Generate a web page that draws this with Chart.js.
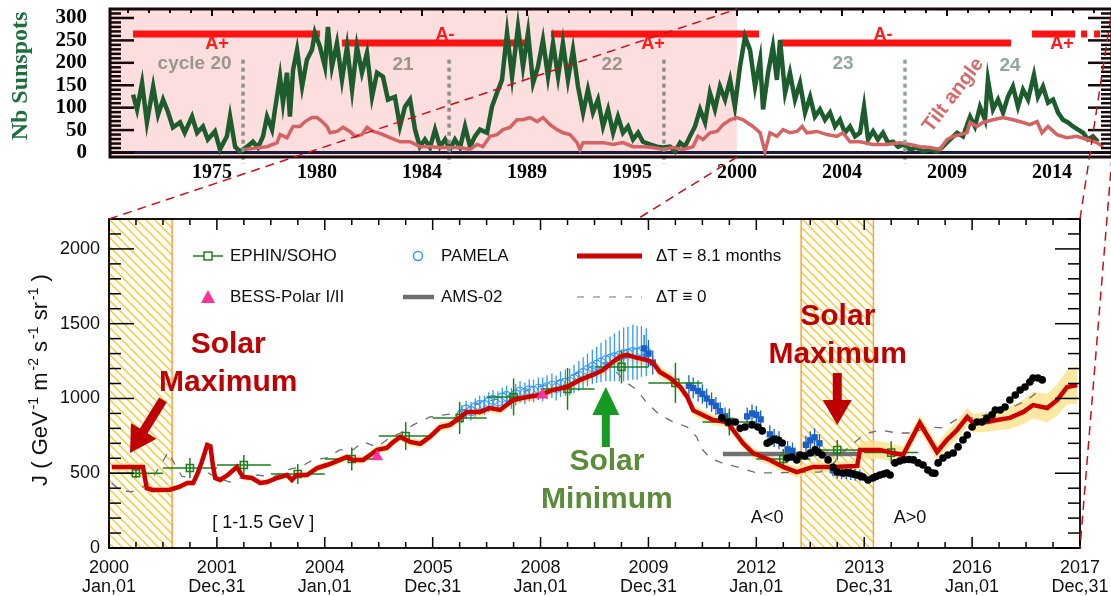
<!DOCTYPE html>
<html>
<head>
<meta charset="utf-8">
<script src="https://cdn.jsdelivr.net/npm/chart.js@4.4.1/dist/chart.umd.min.js"></script>
<style>
html, body { margin: 0; padding: 0; background: #fff; overflow: hidden; width: 1111px; height: 596px; }
#wrap { position: relative; width: 1111px; height: 596px; overflow: hidden; }
canvas { position: absolute; left: 0; top: 0; }
</style>
</head>
<body>
<div id="wrap">
  <canvas id="sunspotCanvas" width="1120" height="596"></canvas>
  <canvas id="fluxCanvas" width="1111" height="596"></canvas>
</div>
<script>
// ---------- Upper panel: sunspot number and heliospheric tilt angle ----------
const topTickYears  = [1975, 1980, 1985, 1990, 1995, 2000, 2005, 2010, 2015];
const topTickLabels = ['1975', '1980', '1984', '1989', '1995', '2000', '2004', '2009', '2014'];
const sunspotTicks  = [0, 50, 100, 150, 200, 250, 300];

// [decimal year, sunspot number]
const sunspots = [
  [1971.24,129],[1971.43,96],[1971.67,155],[1971.9,67],[1972.2,147],[1972.43,84],[1972.67,118],[1972.9,91],
  [1973.14,56],[1973.48,67],[1973.7,44],[1974.05,80],[1974.29,44],[1974.57,58],[1974.8,29],[1975.14,47],
  [1975.38,7],[1975.71,36],[1975.86,80],[1976.1,13],[1976.33,2],[1976.67,13],[1976.95,24],[1977.19,11],
  [1977.43,36],[1977.62,80],[1977.86,51],[1978.0,96],[1978.24,169],[1978.38,111],[1978.57,178],[1978.71,80],
  [1978.86,184],[1979.05,229],[1979.29,147],[1979.52,207],[1979.76,229],[1979.9,267],[1980.14,236],[1980.38,191],
  [1980.52,280],[1980.71,191],[1980.95,244],[1981.19,162],[1981.43,236],[1981.67,140],[1981.9,236],[1982.14,178],
  [1982.38,222],[1982.62,124],[1982.86,178],[1983.14,169],[1983.38,118],[1983.71,124],[1983.95,58],[1984.19,102],
  [1984.43,118],[1984.67,51],[1984.9,13],[1985.14,29],[1985.38,11],[1985.62,51],[1985.86,13],[1986.1,29],
  [1986.33,7],[1986.57,29],[1986.81,11],[1987.05,58],[1987.29,13],[1987.52,36],[1987.76,51],[1988.1,44],
  [1988.33,102],[1988.57,133],[1988.81,162],[1989.05,267],[1989.29,169],[1989.57,280],[1989.81,191],[1990.05,267],
  [1990.29,155],[1990.52,191],[1990.76,251],[1991.0,169],[1991.24,244],[1991.48,169],[1991.71,244],[1991.95,162],
  [1992.19,229],[1992.43,147],[1992.67,89],[1992.9,140],[1993.14,89],[1993.38,118],[1993.62,58],[1993.86,96],
  [1994.1,44],[1994.33,80],[1994.57,44],[1994.81,58],[1995.05,29],[1995.29,44],[1995.52,24],[1995.86,18],
  [1996.19,13],[1996.48,11],[1996.81,13],[1997.05,2],[1997.29,22],[1997.52,13],[1997.76,36],[1998.0,58],
  [1998.24,96],[1998.48,67],[1998.71,133],[1998.95,96],[1999.19,147],[1999.43,118],[1999.67,162],[1999.9,102],
  [2000.14,191],[2000.38,258],[2000.62,229],[2000.86,147],[2001.1,207],[2001.24,96],[2001.48,178],[2001.71,236],
  [2001.9,162],[2002.05,251],[2002.29,133],[2002.52,178],[2002.76,118],[2003.0,155],[2003.24,89],[2003.48,124],
  [2003.71,80],[2003.95,96],[2004.19,73],[2004.43,89],[2004.67,58],[2004.9,73],[2005.14,44],[2005.38,58],
  [2005.62,36],[2005.86,44],[2006.05,102],[2006.24,29],[2006.48,47],[2006.71,29],[2006.95,44],[2007.19,22],
  [2007.43,24],[2007.67,13],[2007.9,18],[2008.24,7],[2008.57,11],[2008.86,2],[2009.19,7],[2009.52,2],
  [2009.81,13],[2010.14,29],[2010.48,44],[2010.76,36],[2011.1,80],[2011.33,58],[2011.57,102],[2011.81,73],
  [2011.95,162],[2012.19,96],[2012.43,118],[2012.67,89],[2012.9,124],[2013.14,147],[2013.38,102],[2013.62,140],
  [2013.86,118],[2014.14,173],[2014.33,124],[2014.57,147],[2014.81,111],[2015.05,118],[2015.29,89],[2015.52,73],
  [2015.76,67],[2016.0,58],[2016.24,51],[2016.48,44],[2016.71,29],[2016.95,36],[2017.19,24]
];

// [decimal year, tilt angle (degrees)]
const tiltAngle = [
  [1976.57,7],[1977.29,11],[1977.62,13],[1978.1,22],[1978.24,40],[1978.57,33],[1978.86,58],[1979.19,58],
  [1979.43,69],[1979.76,78],[1980.0,78],[1980.24,69],[1980.48,58],[1980.62,44],[1980.95,47],[1981.24,56],
  [1981.57,47],[1981.81,36],[1982.14,40],[1982.38,56],[1982.67,47],[1982.86,45],[1983.14,40],[1983.48,33],
  [1983.95,24],[1984.43,24],[1984.9,13],[1985.38,13],[1985.86,11],[1986.33,11],[1986.81,11],[1987.29,7],
  [1987.62,18],[1987.9,13],[1988.24,36],[1988.57,40],[1988.86,51],[1989.19,56],[1989.52,73],[1989.81,73],
  [1990.14,78],[1990.48,69],[1990.76,78],[1991.1,62],[1991.43,51],[1991.71,44],[1992.05,40],[1992.38,22],
  [1992.52,7],[1992.67,22],[1993.14,22],[1993.62,22],[1994.1,18],[1994.57,22],[1995.05,13],[1995.52,13],
  [1996.0,11],[1996.48,7],[1996.95,11],[1997.43,7],[1997.9,13],[1998.14,36],[1998.38,29],[1998.71,44],
  [1999.05,47],[1999.33,62],[1999.67,73],[2000.0,78],[2000.29,73],[2000.48,67],[2000.76,58],[2001.1,44],
  [2001.33,2],[2001.57,44],[2001.9,36],[2002.19,51],[2002.52,44],[2002.86,47],[2003.1,58],[2003.33,44],
  [2003.81,47],[2004.29,40],[2004.76,36],[2005.05,44],[2005.38,24],[2005.86,24],[2006.48,18],[2007.14,18],
  [2007.76,22],[2008.24,18],[2008.71,13],[2009.19,11],[2009.67,7],[2010.0,29],[2010.29,36],[2010.62,40],
  [2010.95,44],[2011.1,67],[2011.43,58],[2011.71,67],[2012.19,73],[2012.67,78],[2013.14,73],[2013.62,67],
  [2013.95,62],[2014.29,69],[2014.52,44],[2014.81,58],[2015.24,40],[2015.71,33],[2016.19,36],[2016.67,29],
  [2017.14,22],[2017.43,13]
];

// solar magnetic polarity epochs: [start, end, sign, end of uncertain tail]
const polarityEpochs = [
  [1971.24, 1980.14, 'A+', null],
  [1981.19, 1990.05, 'A-', null],
  [1991.14, 2001.05, 'A+', null],
  [2002.10, 2013.05, 'A-', null],
  [2014.05, 2016.10, 'A+', 2017.30]
];
const polarityLabelYears = [1975.24, 1986.1, 1996.0, 2006.95, 2015.48];
const solarMinima = [1976.48, 1986.29, 1996.52, 2008.0];

// ---------- Lower panel: proton flux at 1-1.5 GeV ----------
const fluxTickYears  = [2000, 2002, 2004, 2006, 2008, 2010, 2012, 2014, 2016, 2018];
const fluxTickLabels = [['2000','Jan,01'],['2001','Dec,31'],['2004','Jan,01'],['2005','Dec,31'],['2008','Jan,01'],
                        ['2009','Dec,31'],['2012','Jan,01'],['2013','Dec,31'],['2016','Jan,01'],['2017','Dec,31']];
const fluxTicks = [0, 500, 1000, 1500, 2000];
const solarMaxPeriods = [[2000.0, 2001.17], [2012.83, 2014.17]];

// EPHIN/SOHO yearly bins: [year, flux, error]
const ephin = [
  [2000.5,500,33],[2001.5,535,67],[2002.5,555,67],[2003.5,495,67],[2004.5,595,77],[2005.5,749,93],
  [2006.5,870,107],[2007.5,1010,124],[2008.5,1064,140],[2009.5,1211,110],[2010.5,1104,134],[2011.5,843,90],
  [2012.5,595,67],[2013.5,655,67],[2014.5,638,75]
];
const ephinHalfBin = 0.5;

// PAMELA monthly: [year, flux, error]
const pamela = [
  [2006.54,895,60],[2006.62,925,60],[2006.71,915,62],[2006.79,940,62],[2006.87,955,64],[2006.96,955,64],
  [2007.04,975,66],[2007.12,990,66],[2007.21,980,68],[2007.29,1005,68],[2007.37,1015,70],[2007.46,1000,70],
  [2007.54,1025,72],[2007.62,1045,72],[2007.71,1035,74],[2007.79,1055,74],[2007.87,1050,76],[2007.96,1065,76],
  [2008.04,1060,78],[2008.12,1075,80],[2008.21,1085,82],[2008.29,1070,84],[2008.37,1095,86],[2008.46,1105,88],
  [2008.54,1110,90],[2008.62,1130,95],[2008.71,1150,100],[2008.79,1170,105],[2008.87,1190,110],[2008.96,1210,115],
  [2009.04,1225,120],[2009.12,1240,130],[2009.21,1255,140],[2009.29,1265,150],[2009.37,1275,160],[2009.46,1285,170],
  [2009.54,1295,180],[2009.62,1300,180],[2009.71,1310,185],[2009.79,1305,180],[2009.87,1315,170],[2009.96,1310,160]
];
const pamelaLate = [
  [2009.92,1335,90],[2010.0,1300,90],[2010.08,1240,80],[2010.75,1085,70],[2010.83,1070,70],[2010.92,1050,70],
  [2011.0,1030,65],[2011.08,1000,65],[2011.17,975,65],[2011.25,950,60],[2011.33,915,60],[2011.42,880,60],
  [2011.5,850,60],[2011.83,880,60],[2011.92,900,60],[2012.0,890,60],[2012.08,860,60],[2012.25,760,60],
  [2012.33,735,60],[2012.42,720,60],[2012.58,660,55],[2012.67,650,55],[2012.92,690,60],[2013.0,720,60],
  [2013.08,740,60],[2013.17,700,60],[2013.42,520,40],[2013.5,505,40],[2013.58,500,40],[2013.67,500,40],
  [2013.75,495,40],[2013.83,490,40],[2013.92,485,40]
];

// BESS-Polar I / II flights
const bess = [[2004.97,610],[2008.03,1023]];

// AMS-02 average over its first period
const amsAverage = [[2011.38,628],[2013.87,628]];

// AMS-02 per Bartels rotation
const amsRotations = [
  [2011.36,870],[2011.48,843],[2011.61,843],[2011.7,800],[2011.79,809],[2011.92,823],[2012.03,809],[2012.11,783],
  [2012.2,700],[2012.25,710],[2012.32,725],[2012.4,722],[2012.48,702],[2012.57,602],[2012.66,609],[2012.75,589],
  [2012.81,622],[2012.9,615],[2013.0,635],[2013.09,656],[2013.15,640],[2013.22,622],[2013.33,589],[2013.42,540],
  [2013.5,508],[2013.61,502],[2013.68,505],[2013.74,502],[2013.8,495],[2013.87,488],[2013.93,480],[2013.98,475],
  [2014.07,455],[2014.16,468],[2014.22,478],[2014.29,488],[2014.36,495],[2014.42,502],[2014.48,488],[2014.57,569],
  [2014.66,582],[2014.74,590],[2014.83,592],[2014.91,589],[2015.0,569],[2015.09,555],[2015.18,522],[2015.26,502],
  [2015.31,500],[2015.37,569],[2015.46,602],[2015.55,622],[2015.65,635],[2015.74,676],[2015.83,722],[2015.91,756],
  [2016.0,809],[2016.09,843],[2016.18,843],[2016.27,865],[2016.37,890],[2016.43,923],[2016.52,923],[2016.61,943],
  [2016.7,990],[2016.8,1023],[2016.89,1057],[2016.98,1077],[2017.07,1110],[2017.13,1137],[2017.22,1137],[2017.3,1124]
];

// model with 8.1-month delay: [year, flux, half-width of uncertainty band]
const deltaT81 = [
  [2000.05,542,30],[2000.63,542,30],[2000.7,401,20],[2000.8,388,20],[2001.13,390,20],[2001.3,408,20],[2001.45,435,20],
  [2001.56,435,20],[2001.63,488,20],[2001.72,575,20],[2001.82,689,22],[2001.88,680,22],[2001.93,542,20],[2001.97,468,20],
  [2002.06,455,20],[2002.2,488,20],[2002.37,542,20],[2002.48,475,20],[2002.65,468,20],[2002.8,435,20],[2002.93,441,20],
  [2003.11,468,20],[2003.3,488,22],[2003.39,455,22],[2003.48,488,22],[2003.67,488,22],[2003.86,535,24],[2004.04,555,24],
  [2004.15,569,24],[2004.28,589,25],[2004.41,609,25],[2004.52,589,25],[2004.71,589,25],[2004.84,622,25],[2004.97,656,26],
  [2005.15,669,26],[2005.27,709,27],[2005.4,743,28],[2005.58,709,28],[2005.77,696,28],[2005.95,743,28],[2006.14,809,30],
  [2006.32,823,30],[2006.5,870,30],[2006.63,910,30],[2006.88,910,30],[2007.06,936,30],[2007.25,923,30],[2007.49,990,32],
  [2007.75,1010,32],[2007.99,1023,32],[2008.23,1057,33],[2008.49,1077,33],[2008.73,1124,34],[2008.97,1157,35],
  [2009.16,1191,36],[2009.34,1244,37],[2009.47,1278,38],[2009.6,1291,38],[2009.79,1271,38],[2009.97,1258,38],
  [2010.09,1237,38],[2010.21,1177,38],[2010.4,1137,37],[2010.59,1077,36],[2010.72,1010,36],[2010.83,920,35],
  [2011.2,856,35],[2011.46,843,35],[2011.61,769,35],[2011.75,702,35],[2011.94,635,35],[2012.25,589,35],[2012.5,542,35],
  [2012.75,508,35],[2013.05,542,35],[2013.42,542,35],[2013.87,549,35],[2013.92,656,60],[2014.29,656,60],[2014.53,635,58],
  [2014.72,622,55],[2015.03,836,55],[2015.35,642,55],[2015.53,722,58],[2015.72,789,60],[2015.91,876,62],[2016.02,836,64],
  [2016.28,843,66],[2016.46,856,70],[2016.7,870,75],[2016.95,910,82],[2017.13,956,88],[2017.39,936,95],[2017.58,990,105],
  [2017.76,1077,115],[2017.95,1090,125]
];

// model without delay: [year, flux]
const deltaT0 = [
  [2000.05,435],[2000.2,388],[2000.42,375],[2000.63,408],[2000.82,475],[2000.98,569],[2001.1,642],[2001.22,560],
  [2001.35,480],[2001.55,468],[2001.75,520],[2002.0,470],[2002.24,441],[2002.5,477],[2002.75,488],[2003.05,475],
  [2003.3,522],[2003.55,542],[2003.78,589],[2004.03,602],[2004.28,656],[2004.52,656],[2004.71,709],[2004.97,676],
  [2005.2,736],[2005.4,769],[2005.64,823],[2005.95,876],[2006.45,903],[2006.88,970],[2007.38,1010],[2007.8,1057],
  [2008.23,1104],[2008.73,1177],[2009.1,1237],[2009.23,1237],[2009.42,1171],[2009.6,1104],[2009.79,1057],[2009.97,970],
  [2010.21,890],[2010.46,843],[2010.72,809],[2010.9,740],[2010.96,676],[2011.14,602],[2011.36,569],[2011.64,542],
  [2012.01,502],[2012.38,502],[2012.75,508],[2013.18,508],[2013.42,560],[2013.6,640],[2013.8,700],[2014.0,760],
  [2014.29,789],[2014.61,769],[2014.91,769],[2015.16,809],[2015.46,803],[2015.78,876],[2016.02,870],[2016.39,903],
  [2016.76,943],[2017.02,990],[2017.26,1057]
];

// ---------- helpers ----------
const SANS = '"Liberation Sans", Arial, Helvetica, sans-serif';
const SERIF = '"Liberation Serif", "Times New Roman", serif';
const pts = arr => arr.map(p => ({ x: p[0], y: p[1] }));

function seg(ctx, x0, y0, x1, y1) { ctx.beginPath(); ctx.moveTo(x0, y0); ctx.lineTo(x1, y1); ctx.stroke(); }

function arrow(ctx, x0, y0, x1, y1, shaftW, headW, headL, color) {
  const dx = x1 - x0, dy = y1 - y0, len = Math.hypot(dx, dy);
  const ux = dx / len, uy = dy / len, nx = -uy, ny = ux;
  const bx = x1 - ux * headL, by = y1 - uy * headL;
  ctx.save();
  ctx.fillStyle = color;
  ctx.beginPath();
  ctx.moveTo(x0 + nx * shaftW / 2, y0 + ny * shaftW / 2);
  ctx.lineTo(bx + nx * shaftW / 2, by + ny * shaftW / 2);
  ctx.lineTo(bx + nx * headW / 2, by + ny * headW / 2);
  ctx.lineTo(x1, y1);
  ctx.lineTo(bx - nx * headW / 2, by - ny * headW / 2);
  ctx.lineTo(bx - nx * shaftW / 2, by - ny * shaftW / 2);
  ctx.lineTo(x0 - nx * shaftW / 2, y0 - ny * shaftW / 2);
  ctx.closePath();
  ctx.fill();
  ctx.restore();
}

// error bars drawn just before the markers of each dataset
const errorBars = {
  id: 'errorBars',
  beforeDatasetDraw(chart, args) {
    const ds = chart.data.datasets[args.index];
    if (!ds.errors) return;
    const { ctx, chartArea: a, scales: { x, y } } = chart;
    ctx.save();
    ctx.beginPath(); ctx.rect(a.left, a.top, a.right - a.left, a.bottom - a.top); ctx.clip();
    ctx.strokeStyle = ds.errorColor; ctx.lineWidth = ds.errorWidth || 1.2;
    ds.data.forEach((p, i) => {
      const px = x.getPixelForValue(p.x);
      const e = ds.errors[i];
      seg(ctx, px, y.getPixelForValue(p.y - e), px, y.getPixelForValue(p.y + e));
      if (ds.xHalf) {
        const py = y.getPixelForValue(p.y);
        seg(ctx, x.getPixelForValue(p.x - ds.xHalf), py, x.getPixelForValue(p.x + ds.xHalf), py);
      }
    });
    ctx.restore();
  }
};

// ---------- upper panel decorations ----------
const sunspotDecor = {
  id: 'sunspotDecor',
  beforeDatasetsDraw(chart) {
    const { ctx, chartArea: a, scales: { x, y } } = chart;
    ctx.save();
    ctx.beginPath(); ctx.rect(a.left, a.top, a.right - a.left, a.bottom - a.top); ctx.clip();
    // epoch before 2000 shaded
    ctx.fillStyle = '#fddede';
    ctx.fillRect(a.left, a.top, x.getPixelForValue(2000) - a.left, a.bottom - a.top);
    // zero line
    ctx.strokeStyle = '#1c1a3c'; ctx.lineWidth = 3;
    seg(ctx, a.left, y.getPixelForValue(0), a.right, y.getPixelForValue(0));
    // polarity bars
    ctx.strokeStyle = '#ff1212'; ctx.lineWidth = 7; ctx.lineCap = 'butt';
    polarityEpochs.forEach(([t0, t1, sign, tail]) => {
      const py = y.getPixelForValue(sign === 'A+' ? 264 : 244);
      seg(ctx, x.getPixelForValue(t0), py, x.getPixelForValue(t1), py);
      if (tail) {
        ctx.setLineDash([6, 7]);
        seg(ctx, x.getPixelForValue(t1) + 6, py, x.getPixelForValue(tail), py);
        ctx.setLineDash([]);
      }
    });
    ctx.restore();
  },
  afterDatasetsDraw(chart) {
    const { ctx, chartArea: a, scales: { x, y } } = chart;
    ctx.save();
    // solar minima
    ctx.lineWidth = 3.5; ctx.setLineDash([4, 4]);
    solarMinima.forEach((t, i) => {
      ctx.strokeStyle = i === 3 ? '#8ba595' : '#8f8e86';
      const px = x.getPixelForValue(t);
      seg(ctx, px, y.getPixelForValue(207), px, a.bottom + 7);
    });
    ctx.setLineDash([]);
    // cycle numbers
    ctx.textAlign = 'center'; ctx.textBaseline = 'middle';
    ctx.font = 'bold 19px ' + SANS;
    [['cycle 20', 1974.17, 198, '#9a968c'], ['21', 1984.1, 195, '#9a968c'], ['22', 1994.05, 195, '#9a968c'],
     ['23', 2005.05, 198, '#8fa89a'], ['24', 2013.0, 193, '#8fa89a']].forEach(([s, t, v, c]) => {
      ctx.fillStyle = c;
      ctx.fillText(s, x.getPixelForValue(t), y.getPixelForValue(v));
    });
    // polarity labels
    ctx.font = 'bold 18px ' + SANS; ctx.fillStyle = '#ff1a1a';
    polarityEpochs.forEach(([t0, t1, sign], i) => {
      const py = y.getPixelForValue(sign === 'A+' ? 264 : 244) + (sign === 'A+' ? 10 : -8);
      ctx.fillText(sign, x.getPixelForValue(polarityLabelYears[i]), py);
    });
    // tilt angle label
    ctx.save();
    ctx.translate(x.getPixelForValue(2010.3), y.getPixelForValue(128));
    ctx.rotate(-52.7 * Math.PI / 180);
    ctx.font = 'bold 20px ' + SANS; ctx.fillStyle = '#d86a6a';
    ctx.fillText('Tilt angle', 0, 0);
    ctx.restore();
    ctx.restore();
  },
  afterDraw(chart) {
    const { ctx, chartArea: a, scales: { x, y } } = chart;
    ctx.save();
    ctx.strokeStyle = '#150909'; ctx.lineWidth = 2.5;
    for (let v = 0; v <= 310; v += 10) {
      const py = y.getPixelForValue(v), len = v % 50 === 0 ? 24 : 11;
      seg(ctx, a.left, py, a.left + len, py);
      seg(ctx, a.right, py, a.right - len, py);
    }
    ctx.lineWidth = 2;
    for (let t = 1971; t <= 2017; t++) {
      const px = x.getPixelForValue(t), len = t % 5 === 0 ? 7 : 4;
      seg(ctx, px, a.top, px, a.top + len);
    }
    ctx.lineWidth = 3;
    ctx.strokeRect(a.left, a.top, a.right - a.left, a.bottom - a.top);
    // axis title
    ctx.translate(21, 76); ctx.rotate(-Math.PI / 2);
    ctx.font = 'bold 24px ' + SERIF; ctx.fillStyle = '#1f6e3e';
    ctx.textAlign = 'center'; ctx.textBaseline = 'middle';
    ctx.fillText('Nb Sunspots', 0, 0);
    ctx.restore();
  }
};

const sunspotChart = new Chart(document.getElementById('sunspotCanvas'), {
  type: 'line',
  data: {
    datasets: [
      { label: 'Tilt angle', data: pts(tiltAngle), borderColor: '#d46464', borderWidth: 3.5, pointRadius: 0, tension: 0 },
      { label: 'Nb Sunspots', data: pts(sunspots), borderColor: '#1d5c2d', borderWidth: 4.5, pointRadius: 0, tension: 0 }
    ]
  },
  options: {
    responsive: false, animation: false, devicePixelRatio: 1, events: [],
    layout: { padding: { top: 9, right: 8, left: 0, bottom: 0 } },
    plugins: { legend: { display: false }, tooltip: { enabled: false } },
    scales: {
      x: {
        type: 'linear', min: 1970.143, max: 2017.857,
        grid: { display: false, drawTicks: false }, border: { display: false },
        afterBuildTicks: s => { s.ticks = topTickYears.map(v => ({ value: v })); },
        afterFit: s => { s.height = 439; s.paddingLeft = 0; s.paddingRight = 0; },
        ticks: { autoSkip: false, maxRotation: 0, padding: 4, color: '#000',
                 font: { family: SERIF, weight: 'bold', size: 20, lineHeight: 1.2 },
                 callback: (v, i) => topTickLabels[i] }
      },
      y: {
        type: 'linear', min: -10, max: 320,
        grid: { display: false, drawTicks: false }, border: { display: false },
        afterBuildTicks: s => { s.ticks = sunspotTicks.map(v => ({ value: v })); },
        afterFit: s => { s.width = 110; s.paddingTop = 0; s.paddingBottom = 0; },
        ticks: { autoSkip: false, padding: 23, color: '#000', font: { family: SERIF, weight: 'bold', size: 21 },
                 callback: v => String(v) }
      }
    }
  },
  plugins: [sunspotDecor]
});

// ---------- lower panel decorations ----------
const fluxDecor = {
  id: 'fluxDecor',
  beforeDatasetsDraw(chart) {
    const { ctx, chartArea: a, scales: { x } } = chart;
    const h = a.bottom - a.top;
    solarMaxPeriods.forEach(([t0, t1]) => {
      const x0 = x.getPixelForValue(t0), x1 = x.getPixelForValue(t1);
      ctx.save();
      ctx.beginPath(); ctx.rect(x0, a.top, x1 - x0, h); ctx.clip();
      ctx.strokeStyle = '#ffc62a'; ctx.lineWidth = 1.3;
      ctx.beginPath();
      for (let s = a.left + Math.floor((x0 - h - a.left) / 9) * 9; s < x1; s += 9) {
        ctx.moveTo(s, a.top); ctx.lineTo(s + h, a.bottom);
      }
      ctx.stroke();
      ctx.restore();
      ctx.save();
      ctx.strokeStyle = '#f4a445'; ctx.lineWidth = 1.5;
      ctx.strokeRect(x0, a.top, x1 - x0, h);
      ctx.restore();
    });
  },
  afterDatasetsDraw(chart) {
    const { ctx, chartArea: a, scales: { x, y } } = chart;
    const X = t => x.getPixelForValue(t), Y = v => y.getPixelForValue(v);
    ctx.save();
    ctx.textAlign = 'center'; ctx.textBaseline = 'middle';
    // solar activity annotations
    ctx.font = 'bold 30px ' + SANS; ctx.fillStyle = '#c00000';
    ctx.fillText('Solar', X(2002.21), Y(1358));
    ctx.fillText('Maximum', X(2002.21), Y(1104));
    ctx.fillText('Solar', X(2013.51), Y(1545));
    ctx.fillText('Maximum', X(2013.51), Y(1291));
    ctx.fillStyle = '#5b8c3a';
    ctx.fillText('Solar', X(2009.23), Y(575));
    ctx.fillText('Minimum', X(2009.23), Y(321));
    arrow(ctx, X(2001.0), Y(990), X(2000.39), Y(635), 9, 30, 26, '#c00000');
    arrow(ctx, X(2013.5), Y(1171), X(2013.5), Y(823), 9, 29, 25, '#c00000');
    arrow(ctx, X(2009.21), Y(676), X(2009.21), Y(1077), 8, 27, 28, '#159a22');
    // energy range and polarity
    ctx.font = '18px ' + SANS; ctx.fillStyle = '#111';
    ctx.fillText('[ 1-1.5 GeV ]', X(2002.86), Y(167));
    ctx.fillText('A<0', X(2012.2), Y(200));
    ctx.fillText('A>0', X(2014.85), Y(200));

    // legend
    const L = a.left, T = a.top, r1 = T + 37, r2 = T + 78;
    ctx.textAlign = 'left'; ctx.font = '17px ' + SANS;
    ctx.strokeStyle = '#1a7f1a'; ctx.lineWidth = 1.5;
    seg(ctx, L + 84, r1, L + 114, r1);
    ctx.fillStyle = '#fff'; ctx.fillRect(L + 95, r1 - 4, 8, 8); ctx.strokeRect(L + 95, r1 - 4, 8, 8);
    ctx.fillStyle = '#ff3399';
    ctx.beginPath(); ctx.moveTo(L + 99, r2 - 7); ctx.lineTo(L + 106, r2 + 6); ctx.lineTo(L + 92, r2 + 6); ctx.closePath(); ctx.fill();
    ctx.strokeStyle = '#3399ff'; ctx.lineWidth = 1.5;
    ctx.beginPath(); ctx.arc(L + 309, r1, 4.5, 0, Math.PI * 2); ctx.stroke();
    ctx.strokeStyle = '#6e6e6e'; ctx.lineWidth = 4.5;
    seg(ctx, L + 294, r2, L + 325, r2);
    ctx.strokeStyle = '#cc0000'; ctx.lineWidth = 5;
    seg(ctx, L + 468, r1, L + 533, r1);
    ctx.strokeStyle = '#707070'; ctx.lineWidth = 1.2; ctx.setLineDash([7, 9]);
    seg(ctx, L + 468, r2, L + 533, r2);
    ctx.setLineDash([]);
    ctx.fillStyle = '#111';
    ctx.fillText('EPHIN/SOHO', L + 121, r1);
    ctx.fillText('BESS-Polar I/II', L + 121, r2);
    ctx.fillText('PAMELA', L + 332, r1);
    ctx.fillText('AMS-02', L + 332, r2);
    ctx.fillText('\u0394T = 8.1 months', L + 547, r1);
    ctx.fillText('\u0394T \u2261 0', L + 547, r2);
    ctx.restore();
  },
  afterDraw(chart) {
    const { ctx, chartArea: a, scales: { x, y } } = chart;
    ctx.save();
    ctx.strokeStyle = '#000'; ctx.lineWidth = 1.5;
    for (let v = 0; v <= 2200; v += 100) {
      const py = y.getPixelForValue(v), len = v % 500 === 0 ? 25 : 12;
      seg(ctx, a.left, py, a.left + len, py);
      seg(ctx, a.right, py, a.right - len, py);
    }
    for (let k = 0; k <= 36; k++) {
      const t = 2000 + k * 0.5, px = x.getPixelForValue(t), len = k % 4 === 0 ? 11 : 6;
      seg(ctx, px, a.bottom, px, a.bottom - len);
      seg(ctx, px, a.top, px, a.top + len);
    }
    ctx.lineWidth = 1.8;
    ctx.strokeRect(a.left, a.top, a.right - a.left, a.bottom - a.top);

    // y-axis title with superscripts
    const parts = [['J ( GeV', 0], ['-1', 1], [' m', 0], ['-2', 1], [' s', 0], ['-1', 1], [' sr', 0], ['-1', 1], [' )', 0]];
    const big = '22px ' + SANS, small = '14px ' + SANS;
    let total = 0;
    parts.forEach(([s, sup]) => { ctx.font = sup ? small : big; total += ctx.measureText(s).width + (sup ? 2 : 0); });
    ctx.save();
    ctx.translate(47, 380); ctx.rotate(-Math.PI / 2);
    ctx.fillStyle = '#111'; ctx.textBaseline = 'alphabetic'; ctx.textAlign = 'left';
    let cx = -total / 2;
    parts.forEach(([s, sup]) => {
      ctx.font = sup ? small : big;
      if (sup) cx += 2;
      ctx.fillText(s, cx, sup ? -9 : 0);
      cx += ctx.measureText(s).width;
    });
    ctx.restore();

    // dashed guides linking the 2000-2018 window of the upper panel to this panel
    const tx = sunspotChart.scales.x, ta = sunspotChart.chartArea;
    const wx = tx.getPixelForValue(2000);
    ctx.strokeStyle = '#c8101a'; ctx.lineWidth = 1.5; ctx.setLineDash([9, 6]);
    seg(ctx, a.left, a.top, wx, ta.top);
    seg(ctx, a.right, a.top, ta.right, ta.top);
    const f = (a.top - ta.bottom) / (a.bottom - ta.bottom);
    seg(ctx, wx, ta.bottom, wx + f * (a.left - wx), a.top);
    seg(ctx, ta.right, ta.bottom, a.right, a.bottom);
    ctx.restore();
  }
};

const fluxChart = new Chart(document.getElementById('fluxCanvas'), {
  type: 'line',
  data: {
    datasets: [
      { label: 'BESS-Polar I/II', data: pts(bess), showLine: false, pointStyle: 'triangle', pointRadius: 7,
        pointBackgroundColor: '#ff3399', pointBorderColor: '#ff3399', pointBorderWidth: 0 },
      { label: 'AMS-02 rotations', data: pts(amsRotations), showLine: false, pointStyle: 'circle', pointRadius: 3.8,
        pointBackgroundColor: '#000', pointBorderWidth: 0 },
      { label: '\u0394T = 8.1 months', data: pts(deltaT81), borderColor: '#cc0000', borderWidth: 4.5, pointRadius: 0, tension: 0 },
      { label: 'EPHIN/SOHO', data: pts(ephin), showLine: false, pointStyle: 'rect', pointRadius: 5,
        pointBackgroundColor: 'rgba(255,255,255,0)', pointBorderColor: '#1a7f1a', pointBorderWidth: 1.5,
        errors: ephin.map(p => p[2]), xHalf: ephinHalfBin, errorColor: '#1a7f1a', errorWidth: 1.5 },
      { label: 'PAMELA late', data: pts(pamelaLate), showLine: false, pointStyle: 'rect', pointRadius: 4.5,
        pointBackgroundColor: '#1a5fc8', pointBorderColor: '#1a5fc8', pointBorderWidth: 0,
        errors: pamelaLate.map(p => p[2]), errorColor: '#1a5fc8', errorWidth: 1.3 },
      { label: 'PAMELA', data: pts(pamela), showLine: false, pointStyle: 'circle', pointRadius: 4.5,
        pointBackgroundColor: 'rgba(255,255,255,0)', pointBorderColor: '#3399ff', pointBorderWidth: 1.2,
        errors: pamela.map(p => p[2]), errorColor: '#3399ff', errorWidth: 1.3 },
      { label: 'AMS-02', data: pts(amsAverage), borderColor: '#707070', borderWidth: 4.5, pointRadius: 0 },
      { label: '\u0394T \u2261 0', data: pts(deltaT0), borderColor: '#6e6e6e', borderWidth: 1.3, borderDash: [8, 9], pointRadius: 0, tension: 0 },
      { label: 'band upper', data: deltaT81.map(p => ({ x: p[0], y: p[1] + p[2] })), borderWidth: 0, pointRadius: 0,
        fill: '+1', backgroundColor: 'rgba(253,226,140,0.8)', tension: 0 },
      { label: 'band lower', data: deltaT81.map(p => ({ x: p[0], y: p[1] - p[2] })), borderWidth: 0, pointRadius: 0, tension: 0 }
    ]
  },
  options: {
    responsive: false, animation: false, devicePixelRatio: 1, events: [],
    layout: { padding: { top: 219, right: 31, left: 0, bottom: 0 } },
    plugins: { legend: { display: false }, tooltip: { enabled: false } },
    scales: {
      x: {
        type: 'linear', min: 2000, max: 2018,
        grid: { display: false, drawTicks: false }, border: { display: false },
        afterBuildTicks: s => { s.ticks = fluxTickYears.map(v => ({ value: v })); },
        afterFit: s => { s.height = 48; s.paddingLeft = 0; s.paddingRight = 0; },
        ticks: { autoSkip: false, maxRotation: 0, padding: 11, color: '#111',
                 font: { family: SANS, size: 18, lineHeight: 1.05 },
                 callback: (v, i) => fluxTickLabels[i] }
      },
      y: {
        type: 'linear', min: 0, max: 2200,
        grid: { display: false, drawTicks: false }, border: { display: false },
        afterBuildTicks: s => { s.ticks = fluxTicks.map(v => ({ value: v })); },
        afterFit: s => { s.width = 109; s.paddingTop = 0; s.paddingBottom = 0; },
        ticks: { autoSkip: false, padding: 9, color: '#111', font: { family: SANS, size: 18 },
                 callback: v => String(v) }
      }
    }
  },
  plugins: [errorBars, fluxDecor]
});
</script>
</body>
</html>
